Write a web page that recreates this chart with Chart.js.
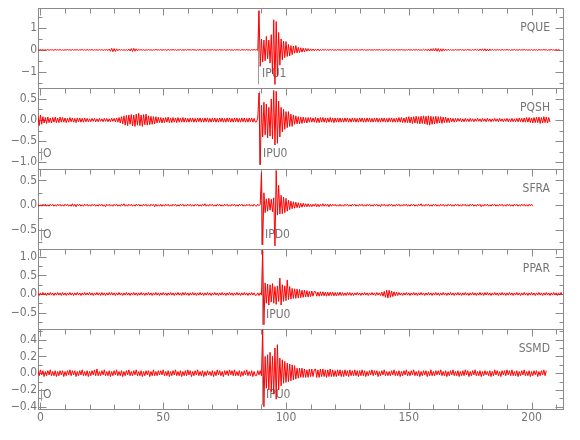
<!DOCTYPE html>
<html>
<head>
<meta charset="utf-8">
<script src="https://cdn.jsdelivr.net/npm/chart.js@4.4.1/dist/chart.umd.min.js"></script>
<style>
    html, body { margin: 0; padding: 0; background: #fff; }
    #wrap { width: 580px; height: 440px; position: relative; }
</style>
</head>
<body>
<div id="wrap"><canvas id="seisChart" width="580" height="440"></canvas></div>
<script>
// stations, top to bottom
const stations = ['PQUE', 'PQSH', 'SFRA', 'PPAR', 'SSMD'];
const pickTimes = [88.7, 89.1, 89.8, 90.4, 90.4];
const pickLabels = ['IPU1', 'IPU0', 'IPD0', 'IPU0', 'IPU0'];
const originMarks = [false, true, true, false, true];

// amplitude window of each trace
const yMins = [-1.76, -1.146, -0.876, -0.94, -0.427];
const yMaxs = [1.91, 0.75, 0.74, 1.222, 0.529];
const yTickLists = [
    [-1, 0, 1],
    [-1.0, -0.5, 0.0, 0.5],
    [-0.5, 0.0, 0.5],
    [-0.5, 0.0, 0.5, 1.0],
    [-0.4, -0.2, 0.0, 0.2, 0.4]
];
const yDecimals = [0, 1, 1, 1, 1];
const yMinorSteps = [0.5, 0.25, 0.25, 0.25, 0.1];

const xTickLabels = [0, 50, 100, 150, 200];
const xMinorStep = 10;

// every trace is sampled each 0.5 s; the arrival window starts at 88 s
const sampleStep = 0.5;
const hitStart = 88;

const pquePre = [
    .01, -.01, .02, -.01, .01, -.02, .01, -.01, .02, -.02, .01, -.01, .01, -.02, .02, -.01, .01, -.01, .02, -.02,
    .01, -.02, .01, -.01, .02, -.01, .01, -.02, .02, -.01, .01, -.01, .02, -.02, .01, -.01, .02, -.01, .01, -.02,
    .02, -.01, .01, -.01, .02, -.02, .01, -.01, .01, -.02, .02, -.01, .01, -.02, .01, -.01, .02, -.03, .04, -.06,
    .07, -.08, .06, -.07, .05, -.04, .03, -.02, .02, -.02, .01, -.02, .02, -.03, .04, -.05, .06, -.07, .07, -.06,
    .05, -.04, .03, -.02, .02, -.01, .01, -.02, .01, -.01, .02, -.01, .01, -.02, .01, -.01, .02, -.01, .01, -.01,
    .02, -.02, .01, -.01, .01, -.02, .02, -.01, .01, -.01, .02, -.01, .01, -.02, .01, -.01, .02, -.02, .01, -.01,
    .01, -.02, .02, -.01, .01, -.01, .02, -.01, .01, -.02, .01, -.01, .02, -.02, .01, -.01, .01, -.02, .02, -.01,
    .01, -.01, .02, -.01, .01, -.02, .01, -.01, .02, -.01, .01, -.01, .02, -.02, .01, -.01, .02, -.01, .01, -.02,
    .01, -.01, .02, -.01, .01, -.02, .02, -.01, .01, -.01, .02, -.01, .01, -.02, .01, -.01, .02, -.01
];
const pqueHit = [
    .01, -.02, 1.8, -.75, .5, -.55, .45, -.5, .62, -.4, .45, -.6, .7, -1.1, 1.38, -1.58,
    1.3, -1.2, .8, -.7, .5, -.45, .4, -.35, .38, -.3, .25, -.28, .2, -.22, .18, -.15,
    .2, -.14, .12, -.12, .1, -.1, .08, -.09, .07, -.06, .06, -.05, .05, -.04, .04, -.04
];
const pqueTail = [
    .04, -.03, .04, -.04, .03, -.03, .03, -.02, .03, -.02, .02, -.02, .02, -.01, .02, -.02, .01, -.02, .02, -.01,
    .01, -.02, .02, -.01, .01, -.01, .02, -.01, .01, -.02, .02, -.01, .01, -.01, .02, -.02, .01, -.01, .02, -.01,
    .01, -.02, .01, -.01, .02, -.01, .01, -.02, .02, -.01, .01, -.01, .02, -.01, .01, -.02, .01, -.01, .02, -.02,
    .01, -.01, .02, -.01, .01, -.02, .02, -.01, .01, -.01, .02, -.01, .01, -.02, .01, -.01, .02, -.01, .01, -.02,
    .02, -.01, .01, -.01, .02, -.02, .01, -.02, .03, -.02, .03, -.04, .04, -.05, .05, -.04, .06, -.05, .07, -.06,
    .06, -.07, .05, -.06, .05, -.04, .04, -.03, .03, -.02, .02, -.02, .01, -.02, .02, -.01, .01, -.01, .02, -.01,
    .01, -.02, .01, -.01, .02, -.01, .01, -.02, .02, -.02, .03, -.02, .03, -.04, .04, -.03, .05, -.04, .05, -.05,
    .04, -.05, .04, -.03, .03, -.03, .02, -.02, .02, -.01, .01, -.02, .02, -.01, .01, -.01, .02, -.01, .01, -.02,
    .01, -.01, .02, -.01, .01, -.02, .02, -.01, .01, -.01, .02, -.01, .01, -.02, .01, -.01, .02, -.02, .01, -.01,
    .01, -.02, .02, -.01, .01, -.01, .02, -.01, .01, -.02, .01, -.01, .02, -.01, .01, -.02, .02, -.01, .01, -.01
];

const pqshPre = [
    .1, -.13, .12, -.1, .08, -.07, .06, -.08, .07, -.06, .05, -.07, .06, -.05, .07, -.06, .05, -.06, .07, -.05,
    .06, -.05, .05, -.06, .04, -.05, .06, -.04, .05, -.05, .04, -.06, .05, -.04, .05, -.05, .04, -.05, .05, -.04,
    .04, -.04, .03, -.04, .04, -.03, .04, -.04, .03, -.04, .04, -.03, .03, -.04, .04, -.03, .04, -.04, .03, -.04,
    .04, -.03, .04, -.04, .05, -.05, .06, -.07, .08, -.09, .1, -.12, .11, -.13, .12, -.1, .13, -.14, .12, -.15,
    .14, -.12, .16, -.13, .12, -.15, .13, -.11, .14, -.12, .1, -.11, .09, -.1, .08, -.09, .08, -.07, .07, -.06,
    .06, -.07, .05, -.06, .06, -.05, .07, -.06, .05, -.06, .06, -.05, .05, -.06, .06, -.05, .05, -.05, .06, -.05,
    .05, -.05, .04, -.05, .05, -.04, .05, -.05, .04, -.05, .05, -.04, .05, -.05, .04, -.05, .05, -.04, .05, -.05,
    .04, -.05, .05, -.04, .05, -.05, .04, -.05, .05, -.04, .05, -.05, .04, -.05, .05, -.04, .05, -.05, .04, -.05,
    .05, -.04, .05, -.05, .04, -.05, .05, -.04, .05, -.05, .04, -.05, .05, -.04, .05, -.05, .04, -.05
];
const pqshHit = [
    -.04, .05, .64, -1.06, .35, -.4, .42, -.35, .38, -.42, .3, -.38, .5, -.45, .7, -.59,
    .68, -.55, .45, -.4, .3, -.28, .25, -.22, .2, -.18, .2, -.15, .14, -.15, .12, -.1,
    .1, -.09, .08, -.09, .07, -.08, .07, -.06, .06, -.07, .06, -.05, .06, -.05, .05, -.05
];
const pqshTail = [
    .06, -.06, .05, -.06, .06, -.05, .06, -.05, .05, -.06, .05, -.05, .06, -.05, .05, -.06, .05, -.05, .05, -.05,
    .05, -.05, .04, -.05, .05, -.04, .05, -.05, .04, -.05, .05, -.04, .05, -.05, .04, -.05, .05, -.04, .05, -.05,
    .04, -.05, .05, -.04, .05, -.05, .04, -.05, .05, -.04, .05, -.05, .04, -.05, .05, -.04, .05, -.05, .04, -.05,
    .05, -.04, .05, -.05, .04, -.05, .05, -.05, .06, -.05, .06, -.06, .05, -.06, .07, -.06, .08, -.07, .07, -.08,
    .08, -.07, .09, -.08, .08, -.09, .09, -.08, .1, -.09, .09, -.11, .1, -.12, .09, -.1, .08, -.09, .09, -.08,
    .08, -.07, .08, -.08, .07, -.06, .07, -.06, .05, -.06, .05, -.04, .04, -.05, .04, -.04, .04, -.03, .04, -.04,
    .03, -.04, .04, -.03, .03, -.04, .04, -.03, .03, -.04, .03, -.03, .04, -.03, .03, -.04, .04, -.03, .03, -.04,
    .04, -.03, .03, -.04, .03, -.03, .04, -.03, .03, -.04, .04, -.03, .03, -.04, .03, -.03, .04, -.04, .03, -.04,
    .04, -.04, .03, -.04, .04, -.04, .05, -.04, .04, -.05, .05, -.05, .06, -.05, .06, -.06, .05, -.07, .06, -.06,
    .07, -.06, .07, -.08, .06, -.07, .08, -.06, .07, -.07, .06, -.05
];

const sfraPre = [
    .02, -.02, .01, -.02, .02, -.01, .02, -.02, .01, -.02, .02, -.01, .02, -.02, .01, -.02, .02, -.01, .02, -.02,
    .01, -.02, .02, -.01, .02, -.02, .01, -.02, .03, -.02, .02, -.03, .02, -.01, .02, -.02, .01, -.02, .02, -.01,
    .02, -.02, .01, -.02, .02, -.01, .02, -.02, .01, -.02, .02, -.01, .02, -.02, .01, -.03, .02, -.01, .02, -.02,
    .01, -.02, .02, -.01, .02, -.02, .01, -.02, .02, -.01, .03, -.02, .01, -.02, .02, -.01, .02, -.02, .01, -.02,
    .02, -.01, .02, -.02, .01, -.02, .02, -.01, .02, -.02, .01, -.02, .02, -.01, .02, -.03, .02, -.02, .01, -.02,
    .02, -.02, .01, -.02, .02, -.01, .02, -.02, .01, -.02, .02, -.01, .02, -.02, .01, -.02, .02, -.01, .02, -.02,
    .01, -.02, .02, -.01, .02, -.02, .01, -.02, .02, -.01, .02, -.02, .01, -.02, .02, -.01, .03, -.02, .01, -.02,
    .02, -.01, .02, -.02, .01, -.02, .02, -.01, .02, -.02, .01, -.02, .02, -.01, .02, -.02, .01, -.02, .02, -.01,
    .02, -.02, .01, -.02, .02, -.01, .02, -.02, .01, -.02, .02, -.01, .02, -.02, .01, -.02, .02, -.01
];
const sfraHit = [
    -.02, .02, -.01, .02, .66, -.8, .25, -.15, .13, -.12, .14, -.1, .12, -.13, .15, -.82,
    .7, -.2, .4, -.18, .2, -.17, .16, -.15, .14, -.12, .1, -.09, .08, -.07, .07, -.06,
    .06, -.05, .05, -.05, .04, -.04, .04, -.03, .03, -.03, .03, -.03, .02, -.03, .02, -.02
];
const sfraTail = [
    .03, -.03, .02, -.03, .02, -.02, .03, -.02, .02, -.02, .02, -.03, .02, -.02, .02, -.01, .02, -.02, .01, -.02,
    .02, -.02, .01, -.02, .02, -.01, .02, -.02, .01, -.02, .02, -.01, .02, -.02, .01, -.02, .02, -.01, .02, -.02,
    .01, -.02, .02, -.01, .02, -.02, .01, -.02, .02, -.01, .02, -.02, .01, -.03, .02, -.01, .02, -.02, .01, -.02,
    .02, -.01, .02, -.02, .01, -.02, .02, -.01, .02, -.02, .01, -.02, .02, -.01, .02, -.02, .01, -.02, .02, -.01,
    .02, -.02, .01, -.02, .02, -.01, .03, -.02, .01, -.02, .02, -.01, .02, -.02, .01, -.02, .02, -.01, .02, -.02,
    .01, -.02, .02, -.01, .02, -.02, .01, -.02, .02, -.01, .02, -.02, .01, -.02, .02, -.01, .02, -.02, .01, -.02,
    .02, -.01, .02, -.02, .01, -.02, .02, -.01, .02, -.02, .01, -.02, .02, -.01, .02, -.03, .01, -.02, .02, -.01,
    .02, -.02, .01, -.02, .02, -.01, .02, -.02, .01, -.02, .02, -.01, .02, -.02, .01, -.02, .02, -.01, .02, -.02,
    .01, -.02, .02, -.01, .02, -.02, .01, -.02, .02, -.01, .02, -.02, .01, -.02, .02, -.01, .02, -.02
];

const pparPre = [
    .03, -.04, .03, -.03, .04, -.03, .03, -.04, .03, -.03, .04, -.03, .03, -.04, .03, -.03, .04, -.03, .03, -.04,
    .04, -.03, .03, -.04, .03, -.03, .04, -.03, .03, -.04, .03, -.03, .04, -.03, .03, -.04, .03, -.03, .04, -.03,
    .03, -.03, .04, -.03, .03, -.04, .03, -.03, .04, -.03, .03, -.04, .04, -.03, .03, -.04, .03, -.03, .04, -.03,
    .04, -.03, .03, -.04, .03, -.03, .04, -.03, .03, -.04, .03, -.03, .04, -.03, .03, -.04, .03, -.03, .04, -.03,
    .03, -.04, .03, -.03, .04, -.03, .03, -.04, .03, -.03, .04, -.03, .03, -.04, .03, -.03, .04, -.03, .03, -.04,
    .03, -.03, .04, -.03, .03, -.04, .03, -.03, .04, -.03, .03, -.04, .03, -.03, .04, -.03, .03, -.04, .04, -.03,
    .04, -.03, .03, -.04, .03, -.03, .04, -.03, .03, -.04, .03, -.03, .04, -.03, .03, -.04, .03, -.03, .04, -.03,
    .03, -.04, .03, -.03, .04, -.03, .03, -.04, .03, -.03, .04, -.03, .03, -.04, .03, -.03, .04, -.03, .03, -.04,
    .03, -.03, .04, -.03, .03, -.04, .03, -.03, .04, -.03, .03, -.04, .03, -.03, .04, -.03, .03, -.04
];
const pparHit = [
    -.03, .03, -.04, .03, -.03, 1.18, -.83, .3, -.25, .27, -.3, .25, -.22, .28, -.25, .2,
    -.28, .22, -.2, .43, -.3, .25, -.2, .22, -.18, .38, -.15, .2, -.14, .15, -.12, .14,
    -.12, .13, -.11, .12, -.1, .1, -.09, .1, -.08, .09, -.08, .07, -.07, .08, -.06, .07
];
const pparTail = [
    .06, -.06, .05, -.06, .06, -.05, .06, -.05, .05, -.06, .05, -.05, .05, -.04, .05, -.05, .04, -.05, .04, -.04,
    .05, -.04, .04, -.04, .03, -.04, .04, -.03, .04, -.04, .03, -.04, .03, -.03, .04, -.03, .03, -.04, .03, -.03,
    .04, -.03, .03, -.04, .03, -.03, .04, -.03, .03, -.04, .04, -.03, .03, -.04, .05, -.06, .07, -.09, .1, -.11,
    .1, -.09, .08, -.07, .06, -.05, .05, -.04, .04, -.03, .03, -.04, .03, -.03, .04, -.03, .03, -.04, .03, -.03,
    .04, -.03, .03, -.04, .03, -.03, .04, -.03, .03, -.04, .03, -.03, .04, -.03, .03, -.04, .03, -.03, .04, -.03,
    .03, -.04, .03, -.03, .04, -.03, .03, -.04, .03, -.03, .04, -.03, .03, -.04, .03, -.03, .04, -.03, .03, -.04,
    .03, -.03, .04, -.03, .03, -.04, .03, -.03, .04, -.03, .03, -.04, .03, -.03, .04, -.03, .03, -.04, .04, -.03,
    .04, -.03, .03, -.04, .03, -.03, .04, -.03, .03, -.04, .03, -.03, .04, -.03, .03, -.04, .03, -.03, .04, -.03,
    .03, -.04, .03, -.03, .04, -.03, .03, -.04, .03, -.03, .04, -.03, .03, -.04, .03, -.03, .04, -.03, .03, -.04,
    .03, -.03, .04, -.03, .03, -.04, .03, -.03, .04, -.03, .03, -.04, .03, -.03, .04, -.03, .03, -.04, .03, -.03,
    .04, -.03
];

const ssmdPre = [
    .03, -.03, .04, -.02, .03, -.04, .02, -.03, .03, -.02, .04, -.03, .02, -.03, .03, -.04, .02, -.03, .03, -.02,
    .03, -.04, .02, -.03, .03, -.02, .04, -.03, .03, -.02, .03, -.04, .02, -.03, .03, -.02, .04, -.03, .02, -.03,
    .03, -.04, .02, -.03, .03, -.02, .04, -.03, .05, -.03, .02, -.03, .03, -.02, .04, -.03, .02, -.03, .03, -.04,
    .02, -.03, .03, -.02, .04, -.03, .02, -.03, .03, -.04, .02, -.03, .03, -.02, .04, -.03, .02, -.03, .03, -.02,
    .04, -.03, .02, -.03, .03, -.04, .02, -.03, .03, -.02, .03, -.04, .02, -.03, .04, -.03, .02, -.03, .03, -.02,
    .03, -.02, .04, -.03, .02, -.03, .03, -.04, .02, -.03, .03, -.02, .04, -.03, .02, -.03, .03, -.04, .02, -.03,
    .03, -.03, .04, -.02, .03, -.04, .02, -.03, .03, -.02, .04, -.03, .02, -.03, .03, -.04, .02, -.03, .03, -.02,
    .02, -.03, .03, -.04, .02, -.03, .04, -.02, .03, -.03, .02, -.04, .03, -.02, .03, -.03, .04, -.02, .03, -.03,
    .04, -.03, .02, -.03, .03, -.04, .02, -.03, .03, -.02, .04, -.03, .02, -.03, .03, -.04, .02, -.03
];
const ssmdHit = [
    -.03, .03, -.02, .03, -.03, .52, -.4, .2, -.18, .22, -.2, .25, -.22, .2, -.25, .3,
    -.31, .34, -.2, .18, -.15, .16, -.12, .14, -.11, .12, -.1, .11, -.09, .1, -.08, .09,
    -.07, .06, -.06, .06, -.05, .06, -.05, .05, -.05, .04, -.05, .05, -.04, .05, -.04, .04
];
const ssmdTail = [
    .05, -.05, .04, -.05, .05, -.04, .05, -.04, .04, -.05, .04, -.04, .05, -.04, .04, -.04, .03, -.04, .04, -.03,
    .04, -.04, .03, -.04, .04, -.03, .03, -.04, .04, -.03, .03, -.03, .04, -.03, .03, -.04, .03, -.03, .04, -.03,
    .03, -.04, .02, -.03, .03, -.02, .04, -.03, .03, -.02, .03, -.04, .02, -.03, .03, -.02, .04, -.03, .02, -.03,
    .02, -.03, .03, -.02, .04, -.03, .02, -.03, .03, -.04, .02, -.03, .03, -.02, .04, -.03, .02, -.03, .03, -.02,
    .04, -.03, .02, -.03, .03, -.04, .02, -.03, .03, -.02, .03, -.04, .02, -.03, .04, -.03, .02, -.03, .03, -.02,
    .03, -.02, .04, -.03, .02, -.03, .03, -.04, .02, -.03, .03, -.02, .04, -.03, .02, -.03, .03, -.04, .02, -.03,
    .03, -.03, .04, -.02, .03, -.04, .02, -.03, .03, -.02, .04, -.03, .02, -.03, .03, -.04, .02, -.03, .03, -.02,
    .02, -.03, .03, -.04, .02, -.03, .04, -.02, .03, -.03, .02, -.04, .03, -.02, .03, -.03, .04, -.02, .03, -.03,
    .04, -.03, .02, -.03, .03, -.04, .02, -.03, .03, -.02, .04, -.03, .02, -.03, .03, -.04, .02, -.03, .03, -.02,
    .03, -.04, .02, -.03, .03, -.02, .04, -.03, .03
];

const traceParts = [
    [pquePre, pqueHit, pqueTail],
    [pqshPre, pqshHit, pqshTail],
    [sfraPre, sfraHit, sfraTail],
    [pparPre, pparHit, pparTail],
    [ssmdPre, ssmdHit, ssmdTail]
];

const traceColor = '#ff0000';
const frameColor = '#8a8a8a';
const textColor = '#747474';
const fontFamily = "'Liberation Sans Narrow', 'DejaVu Sans Condensed', 'Liberation Sans', sans-serif";

// lay the three pieces end to end around the arrival window
function traceData(pre, hit, tail) {
    let pts = [];
    const preStart = hitStart - pre.length * sampleStep;
    const tailStart = hitStart + hit.length * sampleStep;
    pre.forEach((v, i) => pts.push({x: preStart + i * sampleStep, y: v}));
    hit.forEach((v, i) => pts.push({x: hitStart + i * sampleStep, y: v}));
    tail.forEach((v, i) => pts.push({x: tailStart + i * sampleStep, y: v}));
    return pts;
}

function fmtTick(v, dec) {
    let s = Number(v).toFixed(dec);
    if (Math.abs(v) < 1e-9) {
        s = (0).toFixed(dec);
    }
    return s.replace('-', '\u2212');
}

function line(ctx, x1, y1, x2, y2) {
    ctx.beginPath();
    ctx.moveTo(x1, y1);
    ctx.lineTo(x2, y2);
    ctx.stroke();
}

// frames, inward ticks, picks and station names
const panelDecor = {
    id: 'panelDecor',
    beforeDatasetsDraw(chart) {
        const ctx = chart.ctx;
        const xs = chart.scales.x;
        const left = Math.round(xs.left) + 0.5;
        const right = Math.round(xs.right) + 0.5;
        ctx.save();
        ctx.lineWidth = 1;
        ctx.fillStyle = textColor;

        stations.forEach((name, i) => {
            const ys = chart.scales['y' + i];
            const top = Math.round(ys.top) + 0.5;
            const bottom = Math.round(ys.bottom) + 0.5;
            ctx.strokeStyle = frameColor;
            ctx.strokeRect(left, top, right - left, bottom - top);

            // time ticks
            for (let v = 0; v <= xs.max; v += xMinorStep) {
                const px = Math.round(xs.getPixelForValue(v)) + 0.5;
                const len = xTickLabels.includes(v) ? 7 : 5;
                line(ctx, px, top, px, top + len);
                if (i === stations.length - 1) {
                    line(ctx, px, bottom, px, bottom - len);
                }
            }

            // amplitude ticks, both sides
            const step = yMinorSteps[i];
            for (let v = Math.ceil(ys.min / step) * step; v <= ys.max + 1e-9; v += step) {
                const py = Math.round(ys.getPixelForValue(v)) + 0.5;
                const major = yTickLists[i].some(t => Math.abs(t - v) < 1e-6);
                const len = major ? 8 : 4;
                line(ctx, left, py, left + len, py);
                line(ctx, right, py, right - len, py);
            }

            // phase pick
            ctx.strokeStyle = '#9a9a9a';
            const pk = Math.round(xs.getPixelForValue(pickTimes[i])) + 0.5;
            line(ctx, pk, ys.top + 3, pk, ys.bottom - 4);

            ctx.font = '12px ' + fontFamily;
            ctx.textBaseline = 'middle';
            ctx.textAlign = 'left';
            ctx.fillText(pickLabels[i], pk + 3.5, ys.top + 66);

            if (originMarks[i]) {
                const ox = Math.round(xs.getPixelForValue(0.4)) + 0.5;
                line(ctx, ox, ys.top + 60, ox, ys.top + 72);
                ctx.fillText('O', ox + 1.5, ys.top + 66);
            }

            ctx.textAlign = 'right';
            ctx.fillText(name, 550, ys.top + 20);
        });
        ctx.restore();
    }
};

const scales = {
    x: {
        type: 'linear',
        position: 'bottom',
        min: -1,
        max: 212.8,
        grid: {display: false, drawTicks: false},
        border: {display: false},
        afterBuildTicks: function (s) {
            s.ticks = xTickLabels.map(v => ({value: v}));
        },
        afterFit: function (s) {
            s.height = 31;
        },
        ticks: {
            autoSkip: false,
            maxRotation: 0,
            padding: 2,
            color: textColor,
            font: {family: fontFamily, size: 12}
        }
    }
};

stations.forEach((name, i) => {
    scales['y' + i] = {
        type: 'linear',
        position: 'left',
        stack: 'traces',
        stackWeight: 1,
        weight: stations.length - i,
        min: yMins[i],
        max: yMaxs[i],
        grid: {display: false, drawTicks: false},
        border: {display: false},
        afterBuildTicks: function (s) {
            s.ticks = yTickLists[i].map(v => ({value: v}));
        },
        afterFit: function (s) {
            s.width = 38;
        },
        ticks: {
            autoSkip: false,
            padding: 1,
            color: textColor,
            font: {family: fontFamily, size: 12},
            callback: function (v) {
                return fmtTick(v, yDecimals[i]);
            }
        }
    };
});

const datasets = stations.map((name, i) => ({
    label: name,
    data: traceData(traceParts[i][0], traceParts[i][1], traceParts[i][2]),
    xAxisID: 'x',
    yAxisID: 'y' + i,
    borderColor: traceColor,
    borderWidth: 1,
    pointRadius: 0,
    tension: 0,
    fill: false
}));

const ctx = document.getElementById('seisChart').getContext('2d');
const seisChart = new Chart(ctx, {
    type: 'line',
    data: {datasets: datasets},
    options: {
        responsive: false,
        animation: false,
        layout: {padding: {left: 0, top: 5, right: 17, bottom: 0}},
        plugins: {
            legend: {display: false},
            tooltip: {enabled: false}
        },
        scales: scales
    },
    plugins: [panelDecor]
});
</script>
</body>
</html>
